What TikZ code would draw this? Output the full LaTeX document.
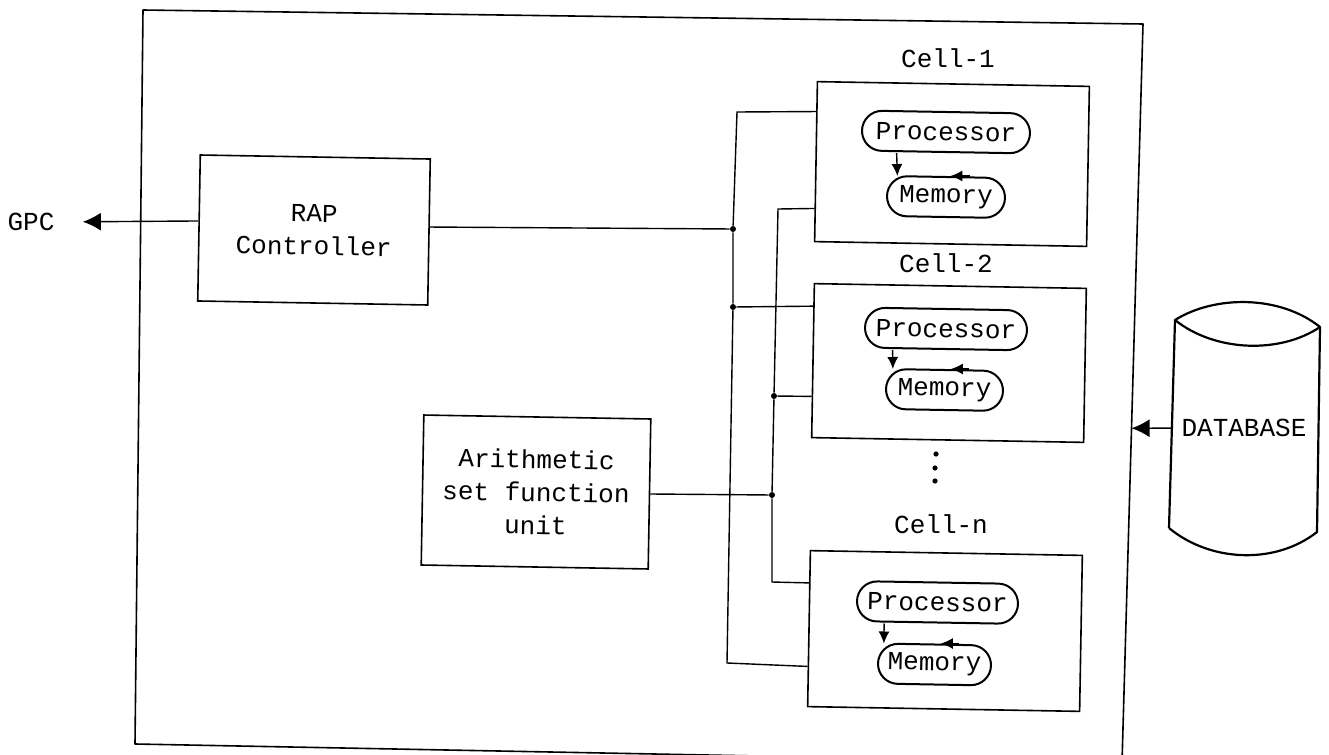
\documentclass[tikz,border=0pt]{standalone}
\usepackage{fontspec}
\setmonofont{Liberation Mono}
\usetikzlibrary{arrows.meta,calc,shapes.misc}
\begin{document}
\begin{tikzpicture}[
    boxnode/.style={draw=black, line width=0.8pt, rotate=-1, align=center, inner sep=0pt},
    pillnode/.style={draw=black, line width=1pt, rounded rectangle, rotate=-1, inner sep=0pt, minimum height=20pt},
    txtnode/.style={inner sep=0pt, align=center},
    wire/.style={draw=black, line width=0.7pt},
    bigtip/.style={wire, -{Latex[length=9pt,width=9pt]}},
    smalltip/.style={wire, -{Latex[length=6pt,width=5.5pt]}},
    junction/.style={circle, fill=black, inner sep=0pt, minimum size=3pt}
  ]
% Drawing units are pixels of the scan
\def\pxsz{0.5pt}
\begin{scope}[x=\pxsz, y=-\pxsz, font=\fontsize{13}{16.5}\selectfont\ttfamily]
  \useasboundingbox (0,0) rectangle (1329,755);
  % Outer frame, its lower edge runs off the page
  \coordinate (frametl) at (143,10);
  \coordinate (frametr) at (1143,24);
  \coordinate (framebr) at (1122,763);
  \coordinate (framebl) at (135,744);
  \draw[line width=0.8pt, line join=round] (frametl) -- (frametr) -- (framebr) -- (framebl) -- cycle;
  % Controller and arithmetic unit
  \node[boxnode, minimum width=115pt, minimum height=73pt] (rapctrl) at (314,230) {RAP\\Controller};
  \node[boxnode, minimum width=113.5pt, minimum height=75pt] (arithunit) at (536,492) {Arithmetic\\set function\\unit};
  \node[txtnode] (gpc) at (31,222) {GPC};
  % Cells
  \node[boxnode, minimum width=136pt, minimum height=80pt] (cellone) at (952,164) {};
  \node[boxnode, minimum width=136pt, minimum height=77pt] (celltwo) at (949,363) {};
  \node[boxnode, minimum width=136pt, minimum height=78pt] (celln) at (945,631) {};
  \node[txtnode] (cellonelbl) at (948,58) {Cell-1};
  \node[txtnode] (celltwolbl) at (946,263) {Cell-2};
  \node[txtnode] (cellnlbl) at (941,524) {Cell-n};
  % Processor and memory of each cell
  \node[pillnode, minimum width=84pt] (procone) at (946,132) {Processor};
  \node[pillnode, minimum width=59pt] (memone) at (946,197) {Memory};
  \node[pillnode, minimum width=81pt] (proctwo) at (946,329) {Processor};
  \node[pillnode, minimum width=58.5pt] (memtwo) at (944.5,390) {Memory};
  \node[pillnode, minimum width=80.5pt] (procn) at (937.5,602.5) {Processor};
  \node[pillnode, minimum width=56.5pt] (memn) at (934.5,664.5) {Memory};
  \draw[smalltip] ([xshift=-24.5pt]procone.south) -- ([xshift=-24.5pt]memone.north);
  \draw[smalltip] ([xshift=-26.5pt]proctwo.south) -- ([xshift=-26pt]memtwo.north);
  \draw[smalltip] ([xshift=-26.5pt]procn.south) -- ([xshift=-25.5pt]memn.north);
  % Arrowheads sitting on the top of each memory
  \draw[smalltip] ([xshift=12pt]memone.north) -- ([xshift=2pt]memone.north);
  \draw[smalltip] ([xshift=12pt]memtwo.north) -- ([xshift=3pt]memtwo.north);
  \draw[smalltip] ([xshift=12pt]memn.north) -- ([xshift=3pt]memn.north);
  % Dots between cell 2 and cell n
  \fill (936,454) circle (1.3pt);
  \fill (935,468) circle (1.3pt);
  \fill (935,481) circle (1.3pt);
  % First bus
  \coordinate (busatop) at (737,112);
  \node[junction] (busaone) at (733,229) {};
  \node[junction] (busatwo) at (733,307) {};
  \coordinate (busabot) at (727,663);
  \draw[wire] ($(cellone.north west)!0.19!(cellone.south west)$) -- (busatop) -- (busaone) -- (busatwo) -- (busabot) -- ($(celln.north west)!0.74!(celln.south west)$);
  \draw[wire] (busatwo) -- ($(celltwo.north west)!0.15!(celltwo.south west)$);
  \draw[wire] ([yshift=2.5pt]rapctrl.east) -- (busaone);
  % Second bus
  \coordinate (busbtop) at (778,209);
  \node[junction] (busbone) at (774,396) {};
  \node[junction] (busbtwo) at (772,495) {};
  \coordinate (busbbot) at (772,582);
  \draw[wire] ($(cellone.north west)!0.79!(cellone.south west)$) -- (busbtop) -- (busbone) -- (busbtwo) -- (busbbot) -- ($(celln.north west)!0.21!(celln.south west)$);
  \draw[wire] (busbone) -- ($(celltwo.north west)!0.73!(celltwo.south west)$);
  \draw[wire] (arithunit.east) -- (busbtwo);
  % To the GPC
  \draw[bigtip, shorten >=14pt] ([yshift=3.5pt]rapctrl.west) -- (gpc.east);
  % Database
  \coordinate (dbtl) at (1175,320);
  \coordinate (dbtr) at (1320,327);
  \coordinate (dbbl) at (1169,528);
  \coordinate (dbbr) at (1317,532);
  \draw[line width=1.1pt, line join=round] (dbbl) -- (dbtl) .. controls (1215,295) and (1280,295) .. (dbtr) -- (dbbr) .. controls (1275,565) and (1210,562) .. (dbbl);
  \draw[line width=1.1pt] (dbtl) .. controls (1215,352) and (1280,354) .. (dbtr);
  \node[txtnode] (dblbl) at (1244,428) {DATABASE};
  \draw[bigtip] ($(dbtl)!0.52!(dbbl)$) -- ($(frametr)!0.547!(framebr)$);
\end{scope}
\end{tikzpicture}
\end{document}
